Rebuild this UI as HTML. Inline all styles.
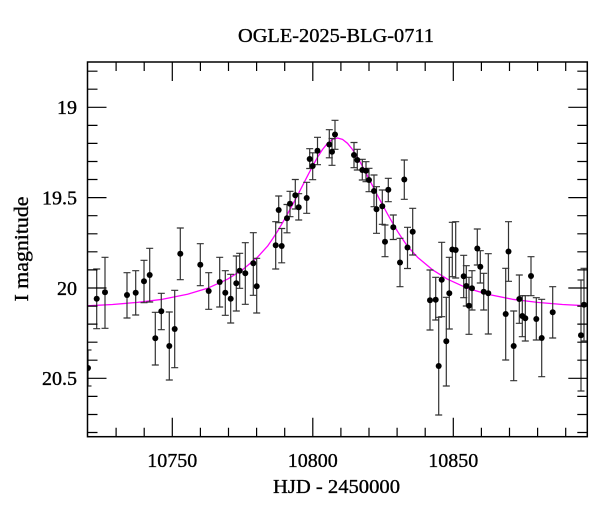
<!DOCTYPE html>
<html><head><meta charset="utf-8"><style>
html,body{margin:0;padding:0;background:#fff;}
svg{display:block;}
text{font-family:"Liberation Serif",serif;fill:#000;stroke:#000;stroke-width:0.35;}
</style></head><body>
<svg width="600" height="512" viewBox="0 0 600 512" xmlns="http://www.w3.org/2000/svg">
<defs><clipPath id="c"><rect x="87.5" y="62" width="499.8" height="374.7"/></clipPath></defs>
<rect width="600" height="512" fill="#fff"/>
<text x="336" y="42" font-size="20" text-anchor="middle" textLength="196" lengthAdjust="spacingAndGlyphs">OGLE-2025-BLG-0711</text>
<g clip-path="url(#c)">
<path fill="none" stroke="#ff00ff" stroke-width="1.3" stroke-linejoin="round" d="M87.5,305.8 L112.5,304.5 L137.5,302.4 L162.5,299.3 L187.5,294.3 L207.5,288.3 L227.5,279.2 L242.5,269.8 L257.5,257.2 L267.5,246.2 L272.5,239 L277.5,231.3 L282.5,222.8 L287.5,214 L292.5,204.8 L297.5,195.4 L302.5,185.7 L307.5,175.9 L312.5,166.3 L317.5,157.3 L322.5,149.5 L327.5,143.3 L332.5,139.4 L337.5,138 L342.5,139.4 L347.5,143.3 L352.5,149.5 L357.5,157.3 L362.5,166.3 L367.5,175.9 L372.5,185.7 L377.5,195.4 L382.5,204.8 L387.5,214 L392.5,222.8 L397.5,231.3 L402.5,239 L407.5,246.2 L417.5,257.2 L432.5,269.8 L447.5,279.2 L467.5,288.3 L487.5,294.3 L512.5,299.3 L537.5,302.4 L562.5,304.5 L587.5,305.8"/>
<g stroke="#333" stroke-width="1.2" fill="none">
<path d="M88,350V386M84.5,350h7M84.5,386h7"/>
<path d="M96.7,269V328.7M93.2,269h7M93.2,328.7h7"/>
<path d="M105,257.3V328.3M101.5,257.3h7M101.5,328.3h7"/>
<path d="M127,272.7V318M123.5,272.7h7M123.5,318h7"/>
<path d="M135.7,270.7V315M132.2,270.7h7M132.2,315h7"/>
<path d="M144,260.3V302.7M140.5,260.3h7M140.5,302.7h7"/>
<path d="M149.7,248.3V302M146.2,248.3h7M146.2,302h7"/>
<path d="M155.3,312.3V365M151.8,312.3h7M151.8,365h7"/>
<path d="M161.3,293.3V329.7M157.8,293.3h7M157.8,329.7h7"/>
<path d="M169.3,312V380M165.8,312h7M165.8,380h7"/>
<path d="M174.7,290.3V367.7M171.2,290.3h7M171.2,367.7h7"/>
<path d="M180.3,228V279.7M176.8,228h7M176.8,279.7h7"/>
<path d="M200.3,243.7V285.7M196.8,243.7h7M196.8,285.7h7"/>
<path d="M208.7,272.7V309.3M205.2,272.7h7M205.2,309.3h7"/>
<path d="M219.7,257.3V307M216.2,257.3h7M216.2,307h7"/>
<path d="M225.3,270.7V315.3M221.8,270.7h7M221.8,315.3h7"/>
<path d="M230.7,274.3V323M227.2,274.3h7M227.2,323h7"/>
<path d="M236.3,256V311M232.8,256h7M232.8,311h7"/>
<path d="M239.7,253.3V288.3M236.2,253.3h7M236.2,288.3h7"/>
<path d="M245.3,242.7V304.3M241.8,242.7h7M241.8,304.3h7"/>
<path d="M253.3,232.7V295.3M249.8,232.7h7M249.8,295.3h7"/>
<path d="M256.7,258.3V313M253.2,258.3h7M253.2,313h7"/>
<path d="M275.7,221.7V269M272.2,221.7h7M272.2,269h7"/>
<path d="M278.7,196V222.7M275.2,196h7M275.2,222.7h7"/>
<path d="M281.7,228.5V262.8M278.2,228.5h7M278.2,262.8h7"/>
<path d="M287,204.5V232.8M283.5,204.5h7M283.5,232.8h7"/>
<path d="M290,191.3V216.7M286.5,191.3h7M286.5,216.7h7"/>
<path d="M295.3,179.5V209M291.8,179.5h7M291.8,209h7"/>
<path d="M298.7,193.7V220M295.2,193.7h7M295.2,220h7"/>
<path d="M306.7,182.3V213.3M303.2,182.3h7M303.2,213.3h7"/>
<path d="M309.7,148.7V168.5M306.2,148.7h7M306.2,168.5h7"/>
<path d="M312.7,152.8V179.7M309.2,152.8h7M309.2,179.7h7"/>
<path d="M317.5,137.3V164.7M314,137.3h7M314,164.7h7"/>
<path d="M329.3,129.7V157.8M325.8,129.7h7M325.8,157.8h7"/>
<path d="M332,138.5V165.3M328.5,138.5h7M328.5,165.3h7"/>
<path d="M335,120.3V149.3M331.5,120.3h7M331.5,149.3h7"/>
<path d="M354,142.5V167.7M350.5,142.5h7M350.5,167.7h7"/>
<path d="M357.3,149.3V170M353.8,149.3h7M353.8,170h7"/>
<path d="M362.3,159.3V180M358.8,159.3h7M358.8,180h7"/>
<path d="M366,161.7V181.7M362.5,161.7h7M362.5,181.7h7"/>
<path d="M369,168.3V191.7M365.5,168.3h7M365.5,191.7h7"/>
<path d="M374,175V206.7M370.5,175h7M370.5,206.7h7"/>
<path d="M376.5,186.7V233.3M373,186.7h7M373,233.3h7"/>
<path d="M382.3,190V224.3M378.8,190h7M378.8,224.3h7"/>
<path d="M388.3,178.3V201.7M384.8,178.3h7M384.8,201.7h7"/>
<path d="M404.3,160V199.3M400.8,160h7M400.8,199.3h7"/>
<path d="M385,225V256.7M381.5,225h7M381.5,256.7h7"/>
<path d="M393.3,215V239.5M389.8,215h7M389.8,239.5h7"/>
<path d="M400,238.3V286.7M396.5,238.3h7M396.5,286.7h7"/>
<path d="M407.5,227.3V268.5M404,227.3h7M404,268.5h7"/>
<path d="M412.7,208.3V255M409.2,208.3h7M409.2,255h7"/>
<path d="M430,270V330M426.5,270h7M426.5,330h7"/>
<path d="M435.7,277.3V320M432.2,277.3h7M432.2,320h7"/>
<path d="M438.7,317.3V415M435.2,317.3h7M435.2,415h7"/>
<path d="M441.7,242.3V316.7M438.2,242.3h7M438.2,316.7h7"/>
<path d="M446.3,297.3V386M442.8,297.3h7M442.8,386h7"/>
<path d="M449.3,257.3V329M445.8,257.3h7M445.8,329h7"/>
<path d="M452.3,222.3V276.7M448.8,222.3h7M448.8,276.7h7"/>
<path d="M455.7,221.7V278M452.2,221.7h7M452.2,278h7"/>
<path d="M463.7,255.3V297.7M460.2,255.3h7M460.2,297.7h7"/>
<path d="M466.3,265.7V306M462.8,265.7h7M462.8,306h7"/>
<path d="M469,277.3V334.3M465.5,277.3h7M465.5,334.3h7"/>
<path d="M472,270.7V310M468.5,270.7h7M468.5,310h7"/>
<path d="M477.3,229V265M473.8,229h7M473.8,265h7"/>
<path d="M480.3,250.7V283M476.8,250.7h7M476.8,283h7"/>
<path d="M483.7,273.3V310M480.2,273.3h7M480.2,310h7"/>
<path d="M488.3,253.7V334M484.8,253.7h7M484.8,334h7"/>
<path d="M505.7,268.3V360M502.2,268.3h7M502.2,360h7"/>
<path d="M508.5,221.7V281.3M505,221.7h7M505,281.3h7"/>
<path d="M513.7,311V380.7M510.2,311h7M510.2,380.7h7"/>
<path d="M519.3,275V323.3M515.8,275h7M515.8,323.3h7"/>
<path d="M522.3,295.7V336.7M518.8,295.7h7M518.8,336.7h7"/>
<path d="M525.3,295.7V341M521.8,295.7h7M521.8,341h7"/>
<path d="M531,256.7V295.7M527.5,256.7h7M527.5,295.7h7"/>
<path d="M536.3,297.7V340M532.8,297.7h7M532.8,340h7"/>
<path d="M541.7,299.3V376.7M538.2,299.3h7M538.2,376.7h7"/>
<path d="M552.7,286.7V338M549.2,286.7h7M549.2,338h7"/>
<path d="M581,280V391M577.5,280h7M577.5,391h7"/>
<path d="M584,268.3V341M580.5,268.3h7M580.5,341h7"/>
</g>
<g fill="#000">
<circle cx="88" cy="368" r="3"/><circle cx="96.7" cy="298.7" r="3"/><circle cx="105" cy="292.3" r="3"/><circle cx="127" cy="295" r="3"/><circle cx="135.7" cy="292.7" r="3"/><circle cx="144" cy="281.3" r="3"/><circle cx="149.7" cy="275" r="3"/><circle cx="155.3" cy="338.3" r="3"/><circle cx="161.3" cy="311.3" r="3"/><circle cx="169.3" cy="346" r="3"/><circle cx="174.7" cy="329" r="3"/><circle cx="180.3" cy="253.7" r="3"/><circle cx="200.3" cy="264.7" r="3"/><circle cx="208.7" cy="291" r="3"/><circle cx="219.7" cy="282" r="3"/><circle cx="225.3" cy="292.7" r="3"/><circle cx="230.7" cy="298.7" r="3"/><circle cx="236.3" cy="283.3" r="3"/><circle cx="239.7" cy="270.7" r="3"/><circle cx="245.3" cy="273.3" r="3"/><circle cx="253.3" cy="263.3" r="3"/><circle cx="256.7" cy="286.3" r="3"/><circle cx="275.7" cy="245.3" r="3"/><circle cx="278.7" cy="210" r="3"/><circle cx="281.7" cy="246" r="3"/><circle cx="287" cy="218.3" r="3"/><circle cx="290" cy="203.7" r="3"/><circle cx="295.3" cy="195.3" r="3"/><circle cx="298.7" cy="207.3" r="3"/><circle cx="306.7" cy="198" r="3"/><circle cx="309.7" cy="159" r="3"/><circle cx="312.7" cy="166" r="3"/><circle cx="317.5" cy="150.7" r="3"/><circle cx="329.3" cy="144.5" r="3"/><circle cx="332" cy="151.7" r="3"/><circle cx="335" cy="134.5" r="3"/><circle cx="354" cy="155" r="3"/><circle cx="357.3" cy="160" r="3"/><circle cx="362.3" cy="170" r="3"/><circle cx="366" cy="170.7" r="3"/><circle cx="369" cy="180" r="3"/><circle cx="374" cy="191" r="3"/><circle cx="376.5" cy="209.3" r="3"/><circle cx="382.3" cy="206.3" r="3"/><circle cx="388.3" cy="189.7" r="3"/><circle cx="404.3" cy="179.5" r="3"/><circle cx="385" cy="241.7" r="3"/><circle cx="393.3" cy="227.3" r="3"/><circle cx="400" cy="262.5" r="3"/><circle cx="407.5" cy="247.5" r="3"/><circle cx="412.7" cy="231.7" r="3"/><circle cx="430" cy="300.3" r="3"/><circle cx="435.7" cy="299.7" r="3"/><circle cx="438.7" cy="366" r="3"/><circle cx="441.7" cy="279.7" r="3"/><circle cx="446.3" cy="341.3" r="3"/><circle cx="449.3" cy="293.3" r="3"/><circle cx="452.3" cy="249.5" r="3"/><circle cx="455.7" cy="250" r="3"/><circle cx="463.7" cy="276.3" r="3"/><circle cx="466.3" cy="286" r="3"/><circle cx="469" cy="305.7" r="3"/><circle cx="472" cy="288.3" r="3"/><circle cx="477.3" cy="248.5" r="3"/><circle cx="480.3" cy="266.7" r="3"/><circle cx="483.7" cy="291.7" r="3"/><circle cx="488.3" cy="293.3" r="3"/><circle cx="505.7" cy="314" r="3"/><circle cx="508.5" cy="251.5" r="3"/><circle cx="513.7" cy="346" r="3"/><circle cx="519.3" cy="299" r="3"/><circle cx="522.3" cy="316" r="3"/><circle cx="525.3" cy="318.3" r="3"/><circle cx="531" cy="276" r="3"/><circle cx="536.3" cy="319" r="3"/><circle cx="541.7" cy="338" r="3"/><circle cx="552.7" cy="312.3" r="3"/><circle cx="581" cy="335.3" r="3"/><circle cx="584" cy="304.7" r="3"/>
</g>
</g>
<g stroke="#000" stroke-width="1.2" fill="none">
<path d="M172.3,436.7v-19M312.8,436.7v-19M453.3,436.7v-19M172.3,62v19M312.8,62v19M453.3,62v19"/>
<path d="M116.1,436.7v-9M144.2,436.7v-9M200.4,436.7v-9M228.5,436.7v-9M256.6,436.7v-9M284.7,436.7v-9M340.9,436.7v-9M369,436.7v-9M397.1,436.7v-9M425.2,436.7v-9M481.4,436.7v-9M509.5,436.7v-9M537.6,436.7v-9M565.7,436.7v-9"/>
<path d="M116.1,62v9M144.2,62v9M200.4,62v9M228.5,62v9M256.6,62v9M284.7,62v9M340.9,62v9M369,62v9M397.1,62v9M425.2,62v9M481.4,62v9M509.5,62v9M537.6,62v9M565.7,62v9"/>
<path d="M87.5,107.3h19M87.5,197.6h19M87.5,288h19M87.5,378.3h19M587.3,107.3h-19M587.3,197.6h-19M587.3,288h-19M587.3,378.3h-19"/>
<path d="M87.5,71.2h10M87.5,89.2h10M87.5,125.4h10M87.5,143.4h10M87.5,161.5h10M87.5,179.5h10M87.5,215.7h10M87.5,233.8h10M87.5,251.8h10M87.5,269.9h10M87.5,306.1h10M87.5,324.1h10M87.5,342.2h10M87.5,360.2h10M87.5,396.4h10M87.5,414.5h10M87.5,432.5h10"/>
<path d="M587.3,71.2h-10M587.3,89.2h-10M587.3,125.4h-10M587.3,143.4h-10M587.3,161.5h-10M587.3,179.5h-10M587.3,215.7h-10M587.3,233.8h-10M587.3,251.8h-10M587.3,269.9h-10M587.3,306.1h-10M587.3,324.1h-10M587.3,342.2h-10M587.3,360.2h-10M587.3,396.4h-10M587.3,414.5h-10M587.3,432.5h-10"/>
</g>
<rect x="87.5" y="62" width="499.8" height="374.7" fill="none" stroke="#000" stroke-width="1.5"/>
<g font-size="20">
<text x="77" y="114" text-anchor="end">19</text>
<text x="77" y="204.5" text-anchor="end">19.5</text>
<text x="77" y="295" text-anchor="end">20</text>
<text x="77" y="385" text-anchor="end">20.5</text>
<text x="172.3" y="467" text-anchor="middle">10750</text>
<text x="312.8" y="467" text-anchor="middle">10800</text>
<text x="453.3" y="467" text-anchor="middle">10850</text>
<text x="336.5" y="493" text-anchor="middle" textLength="127" lengthAdjust="spacingAndGlyphs">HJD - 2450000</text>
<text transform="translate(28,249) rotate(-90)" text-anchor="middle" textLength="105" lengthAdjust="spacingAndGlyphs">I magnitude</text>
</g>
</svg>
</body></html>
